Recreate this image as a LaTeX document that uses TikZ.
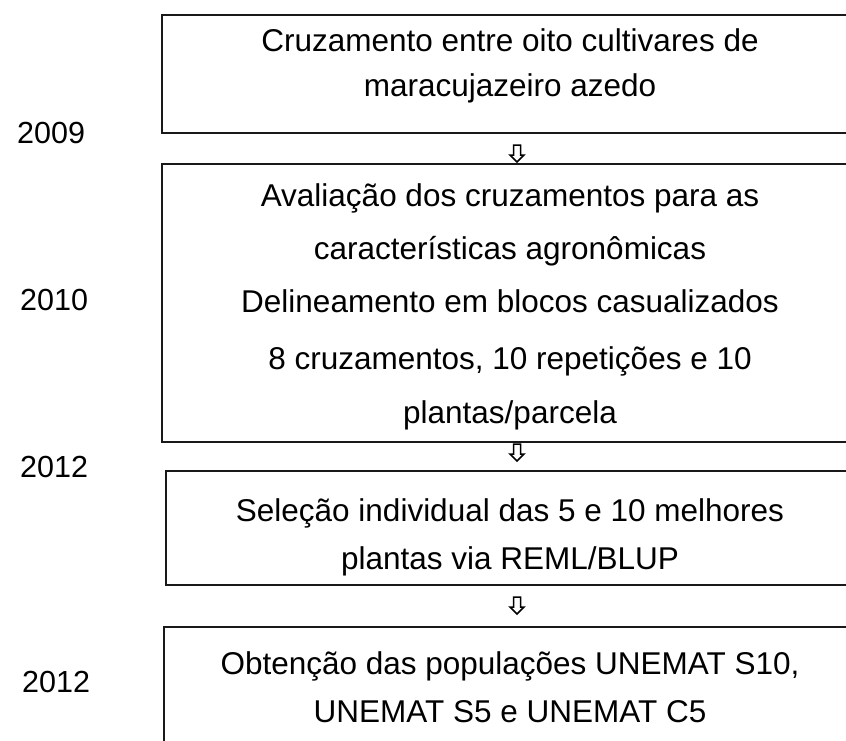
\documentclass[tikz,border=0pt]{standalone}
\usepackage{fontspec}
\setmainfont{Liberation Sans}
\begin{document}
\begin{tikzpicture}[x=1pt,y=-1pt,
  boxline/.style={draw=black!90, line width=1.6pt},
  txt/.style={anchor=base, inner sep=0pt, font=\fontsize{31.5}{36}\selectfont},
  yr/.style={anchor=base west, inner sep=0pt, font=\fontsize{30.5}{36}\selectfont},
  darrow/.pic={\draw[line width=1.5pt, line join=miter, fill=white]
     (-3.5,0) -- (3.5,0) -- (3.5,10) -- (7,10) -- (0,17) -- (-7,10) -- (-3.5,10) -- cycle;}]
\useasboundingbox (0,0) rectangle (846,740);
% boxes (right and bottom edges run off the page)
\coordinate (b1nw) at (162,15);  \coordinate (b1se) at (870,133);
\coordinate (b2nw) at (162,164); \coordinate (b2se) at (870,442);
\coordinate (b3nw) at (166,471); \coordinate (b3se) at (870,585);
\coordinate (b4nw) at (164,627); \coordinate (b4se) at (870,780);
\draw[boxline] (b1nw) rectangle (b1se);
\draw[boxline] (b2nw) rectangle (b2se);
\draw[boxline] (b3nw) rectangle (b3se);
\draw[boxline] (b4nw) rectangle (b4se);
% box texts
\node[txt] (t11) at (510,51)  {Cruzamento entre oito cultivares de};
\node[txt] (t12) at (510,96)  {maracujazeiro azedo};
\node[txt] (t21) at (510,206) {Avaliação dos cruzamentos para as};
\node[txt] (t22) at (510,259) {características agronômicas};
\node[txt] (t23) at (510,312) {Delineamento em blocos casualizados};
\node[txt] (t24) at (510,369) {8 cruzamentos, 10 repetições e 10};
\node[txt] (t25) at (510,423) {plantas/parcela};
\node[txt] (t31) at (510,521) {Seleção individual das 5 e 10 melhores};
\node[txt] (t32) at (510,569) {plantas via REML/BLUP};
\node[txt] (t41) at (510,674) {Obtenção das populações UNEMAT S10,};
\node[txt] (t42) at (510,722) {UNEMAT S5 e UNEMAT C5};
% years
\node[yr] (y1) at (17,143) {2009};
\node[yr] (y2) at (20,310) {2010};
\node[yr] (y3) at (20,477) {2012};
\node[yr] (y4) at (22,692) {2012};
% arrows between boxes
\pic at (517,145) {darrow};
\pic at (517,444) {darrow};
\pic at (517,597) {darrow};
\end{tikzpicture}
\end{document}
